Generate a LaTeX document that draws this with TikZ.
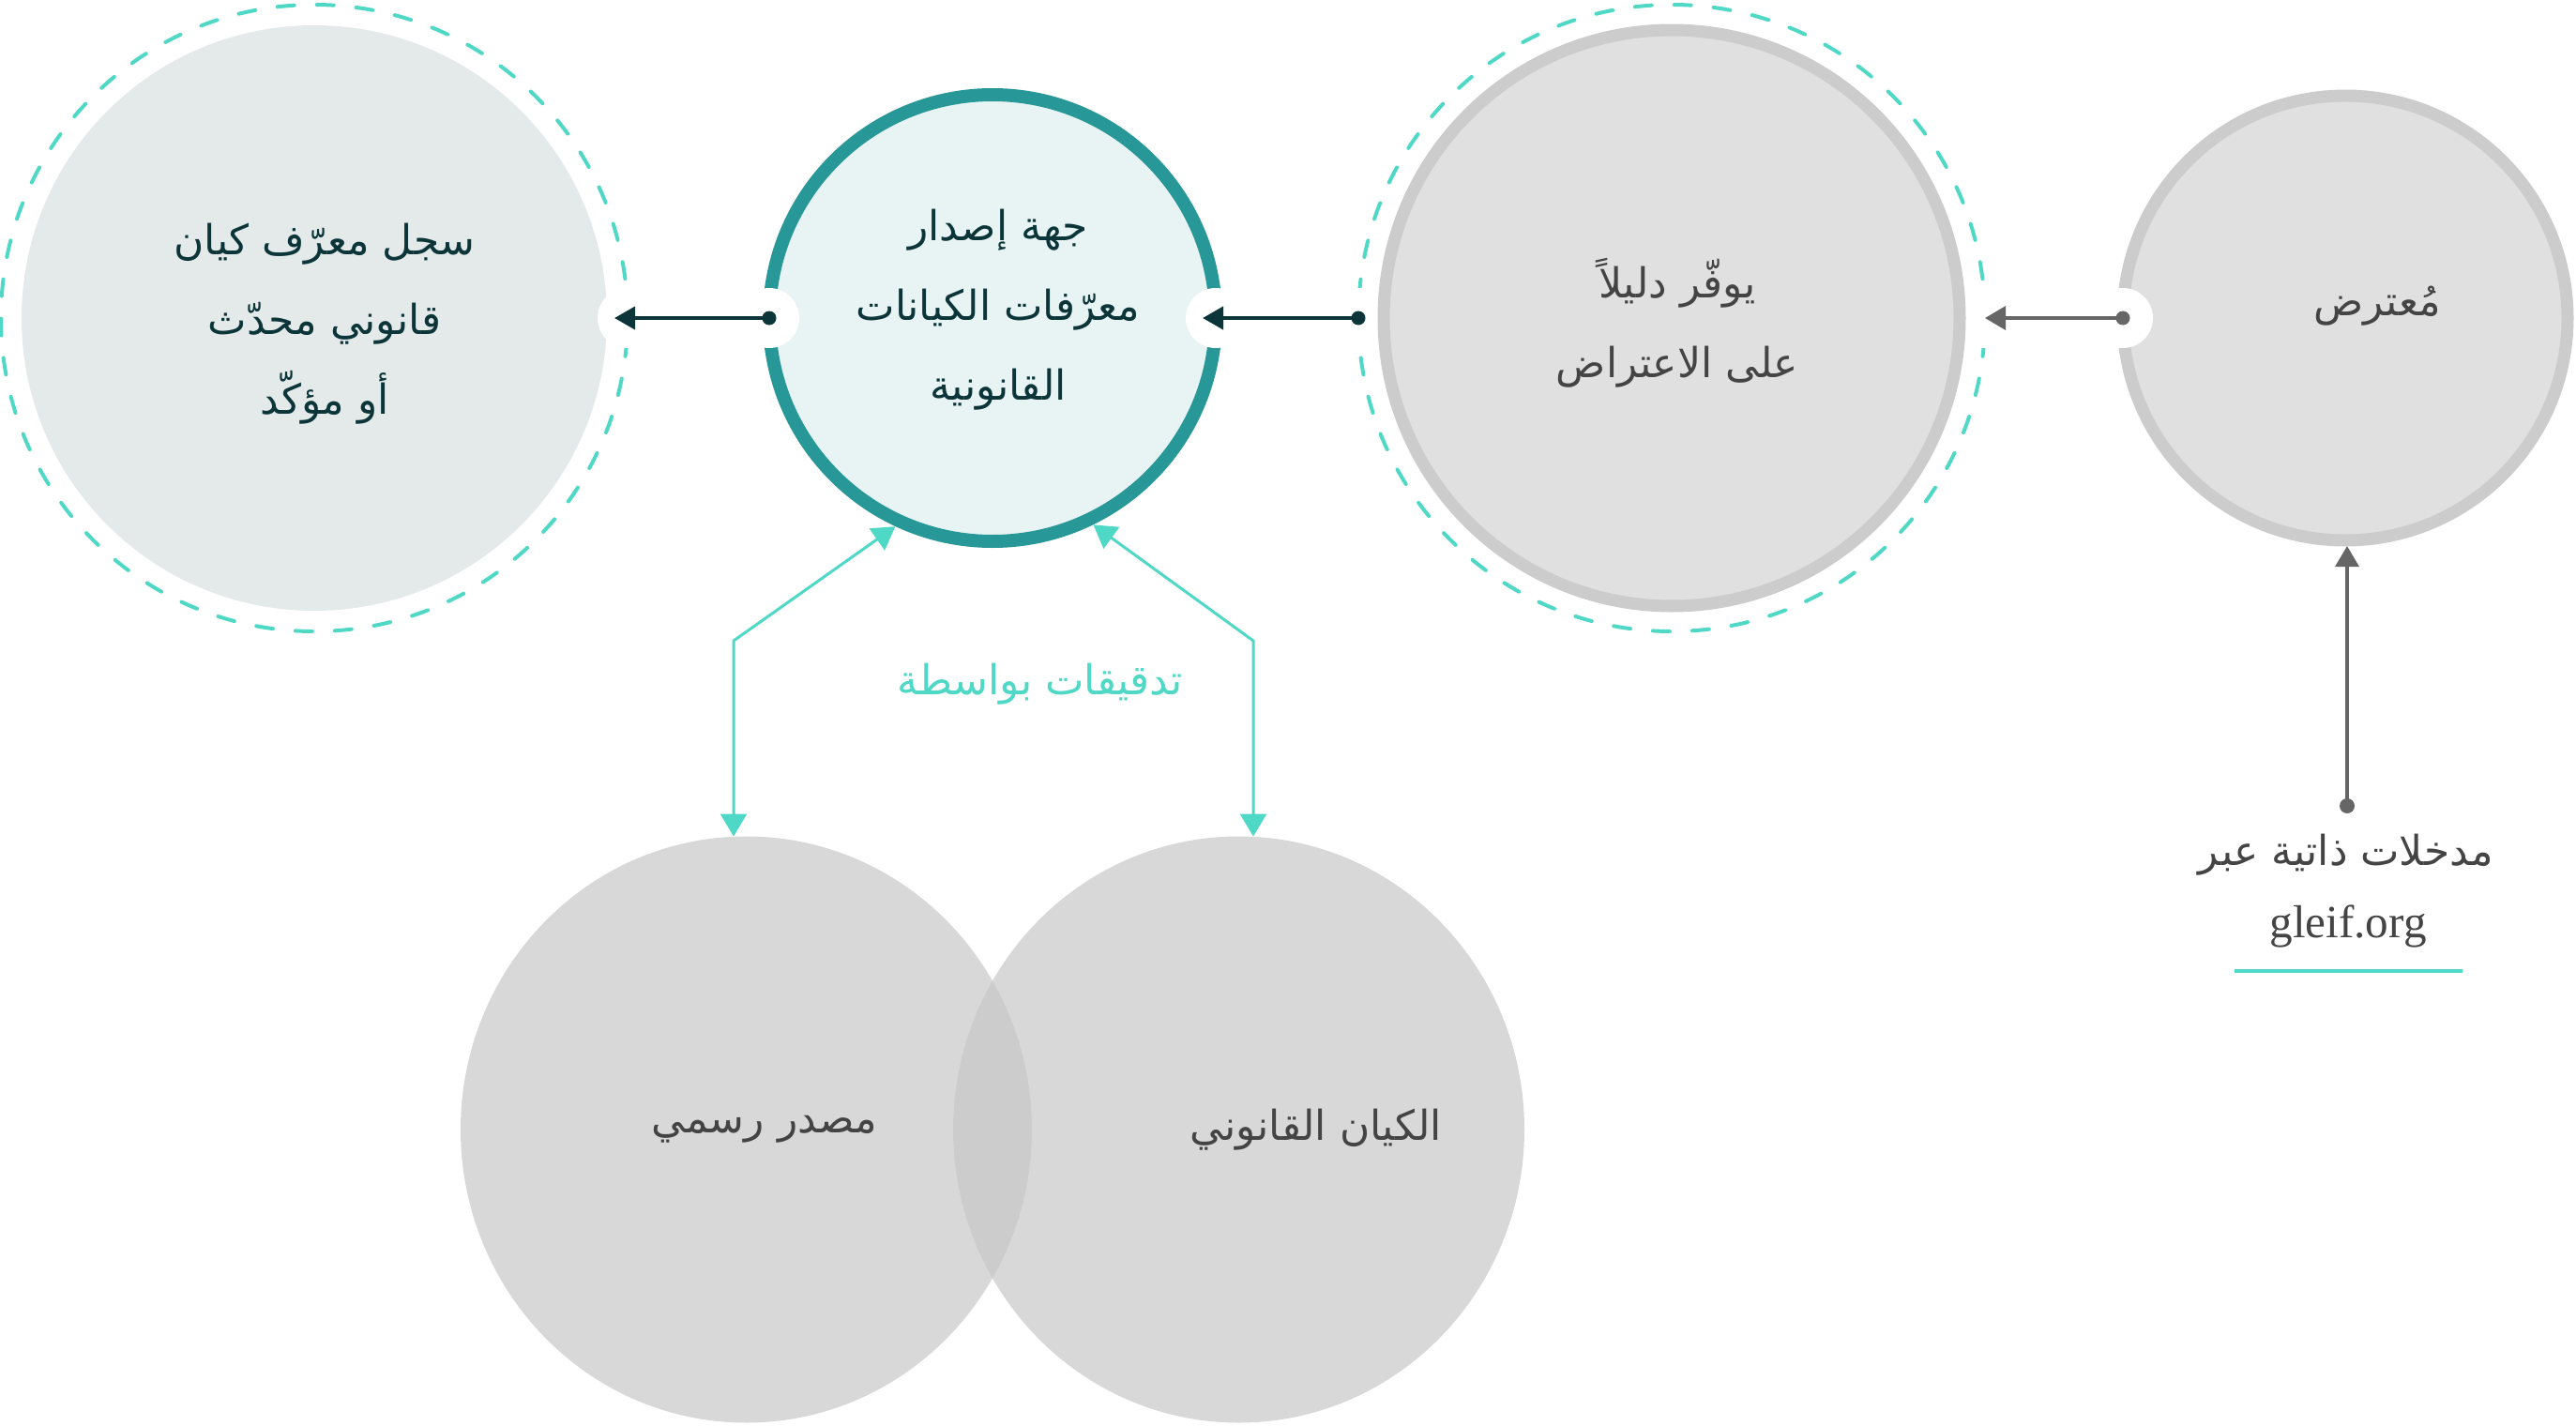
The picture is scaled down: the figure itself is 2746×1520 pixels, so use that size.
\documentclass[tikz,border=0pt]{standalone}
\usepackage{fontspec}
\setmainfont{Liberation Serif}
\newfontfamily\arabicfont[Script=Arabic]{DejaVu Sans}
\TeXXeTstate=1
\usetikzlibrary{arrows.meta,calc,shapes.geometric}
\definecolor{turq}{HTML}{4FD8C5}
\definecolor{afill}{HTML}{E4E9E9}
\definecolor{bfill}{HTML}{E8F4F4}
\definecolor{bline}{HTML}{279797}
\definecolor{cfill}{HTML}{E0E0E0}
\definecolor{cline}{HTML}{CCCCCC}
\definecolor{efgray}{HTML}{C7C7C7}
\definecolor{darkc}{HTML}{0B3538}
\definecolor{gtext}{HTML}{444444}
\definecolor{arrgray}{HTML}{666666}
\newcommand{\RL}[1]{\beginR#1\endR}
\begin{document}
\begin{tikzpicture}[x=0.25pt,y=-0.25pt,
  base/.style={circle, inner sep=0pt, outer sep=0pt},
  ringc/.style={base, draw=turq, line width=1pt, dash pattern=on 4.5pt off 6pt, line cap=round, minimum size=167pt},
  blob/.style={white},
  darr/.style={draw=darkc, line width=1pt, -{Triangle[length=5.5pt,width=6pt]}},
  grarr/.style={draw=arrgray, line width=0.85pt, -{Triangle[length=5.5pt,width=6.25pt]}},
  tarr/.style={draw=turq, line width=0.75pt, {Triangle[length=6pt,width=7pt]}-{Triangle[length=6pt,width=7pt]}},
  artxt/.style={font=\arabicfont\fontsize{11pt}{21.25pt}\selectfont, align=center, inner sep=0pt},
  efc/.style={ellipse, inner sep=0pt, outer sep=0pt, fill=efgray, fill opacity=0.69, minimum width=152.25pt, minimum height=156.25pt}
]
\useasboundingbox (0,0) rectangle (2746,1520);
% rings and circles
\node[ringc] (Aring) at (335,339) {};
\node[base, fill=afill, minimum size=156pt] (A) at (335,339) {};
\node[base, draw=bline, fill=bfill, line width=3.5pt, minimum size=119pt] (B) at (1058,339) {};
\node[ringc] (Cring) at (1782,339) {};
\node[base, draw=cline, fill=cfill, line width=3.25pt, minimum size=118.5pt] (D) at (2500,339) {};
% white gaps
\foreach \p in {Aring.east, B.west, B.east, Cring.west, Cring.east, D.west}
  \fill[blob] (\p) circle[radius=8pt];
\node[base, draw=cline, fill=cfill, line width=3.25pt, minimum size=153.5pt] (C) at (1782,339) {};
% arrows
\draw[darr] (B.west) -- ([xshift=-3.5pt]Aring.east);
\fill[darkc] (B.west) circle[radius=1.875pt];
\draw[darr] (Cring.west) -- ([xshift=-3.5pt]B.east);
\fill[darkc] (Cring.west) circle[radius=1.875pt];
\draw[grarr] (D.west) -- (Cring.east);
\fill[arrgray] (D.west) circle[radius=1.875pt];
% texts in top circles
\node[artxt, text=darkc] (At) at (346,345) {\RL{سجل معرّف كيان}\\\RL{قانوني محدّث}\\\RL{أو مؤكّد}};
\node[artxt, text=darkc] (Bt) at (1064,330) {\RL{جهة إصدار}\\\RL{معرّفات الكيانات}\\\RL{القانونية}};
\node[artxt, text=gtext] (Ct) at (1788,344) {\RL{يوفّر دليلاً}\\\RL{على الاعتراض}};
\node[artxt, text=gtext] (Dt) at (2534,326) {\RL{مُعترض}};
% bottom circles
\node[efc] (E) at (795.5,1204) {};
\node[efc] (F) at (1320.5,1204) {};
\node[artxt, text=gtext] (Et) at (815,1204) {\RL{مصدر رسمي}};
\node[artxt, text=gtext] (Ft) at (1403,1204) {\RL{الكيان القانوني}};
% green audit arrows
\coordinate (gl) at (782,683);
\coordinate (gr) at (1336,683);
\draw[tarr] ($(B.center)!1.03!(B.245)$) -- (gl) -- (gl |- E.north);
\draw[tarr] ($(B.center)!1.03!(B.296)$) -- (gr) -- (gr |- F.north);
\node[artxt, text=turq] (lbl) at (1109,729) {\RL{تدقيقات بواسطة}};
% self registration
\node[artxt, text=gtext] (G1) at (2501,911) {\RL{مدخلات ذاتية عبر}};
\node[font=\fontsize{12.3pt}{14pt}\selectfont, text=gtext, inner sep=0pt] (G2) at (2503,987) {gleif.org};
\draw[turq, line width=1pt] (2382,1035) -- (2625,1035);
\coordinate (gs) at (2502,859);
\draw[grarr] (gs) -- ([yshift=-1.5pt]gs |- D.south);
\fill[arrgray] (gs) circle[radius=2pt];
\end{tikzpicture}
\end{document}
